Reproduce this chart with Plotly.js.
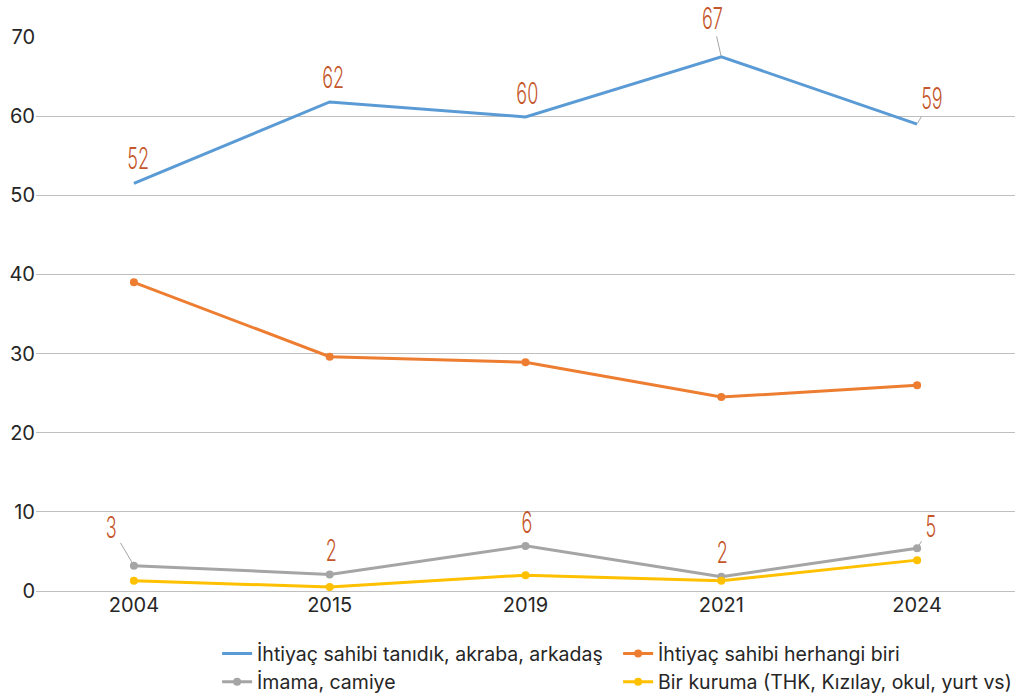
<!DOCTYPE html>
<html>
<head>
<meta charset="utf-8">
<script src="https://cdn.plot.ly/plotly-3.0.1.min.js"></script>
<style>
html,body{margin:0;padding:0;background:#fff;}
#chart{width:1028px;height:697px;}
#chart .annotation-text{transform:scaleX(0.6);transform-box:fill-box;transform-origin:center;}
</style>
</head>
<body>
<div id="chart"></div>
<script>
const years = ['2004', '2015', '2019', '2021', '2024'];
const seriesNames = ['İhtiyaç sahibi tanıdık, akraba, arkadaş', 'İhtiyaç sahibi herhangi biri', 'İmama, camiye', 'Bir kuruma (THK, Kızılay, okul, yurt vs)'];
const tanidik = [51.5, 61.8, 59.9, 67.5, 59.0];
const herhangi = [39.0, 29.6, 28.9, 24.5, 26.0];
const imama = [3.2, 2.1, 5.7, 1.8, 5.4];
const kuruma = [1.3, 0.5, 2.0, 1.3, 3.9];
const tanidikLabels = ['52', '62', '60', '67', '59'];
const imamaLabels = ['3', '2', '6', '2', '5'];

const colors = ['#5B9BD5', '#ED7D31', '#A5A5A5', '#FFC000'];
const data = [
  {x: years, y: tanidik, name: seriesNames[0], type: 'scatter', mode: 'lines', line: {color: colors[0], width: 3}},
  {x: years, y: herhangi, name: seriesNames[1], type: 'scatter', mode: 'lines+markers', line: {color: colors[1], width: 3}, marker: {size: 8, color: colors[1]}},
  {x: years, y: imama, name: seriesNames[2], type: 'scatter', mode: 'lines+markers', line: {color: colors[2], width: 3}, marker: {size: 8, color: colors[2]}},
  {x: years, y: kuruma, name: seriesNames[3], type: 'scatter', mode: 'lines+markers', line: {color: colors[3], width: 3}, marker: {size: 8, color: colors[3]}}
];

const labelFont = {family: 'Inter, "Liberation Sans", sans-serif', size: 30, weight: 300, color: '#C5562A'};
// label offsets (pixels): [ax, ay, arrow]
const blueOff = [[4, -25, false], [3, -25, false], [2, -24, false], [-9, -39, true], [15, -26, true]];
const grayOff = [[-23, -39, true], [1, -24, false], [1, -24, false], [1, -25, false], [14, -22, true]];
const annotations = [];
function addLabels(vals, labels, offs) {
  vals.forEach((v, i) => {
    const o = offs[i];
    if (o[2]) {
      annotations.push({x: i, y: v, xref: 'x', yref: 'y', text: labels[i], showarrow: true, arrowhead: 0, arrowwidth: 1, arrowcolor: '#A5A5A5', ax: o[0], ay: o[1], standoff: 1, font: labelFont, borderpad: 0});
    } else {
      annotations.push({x: i, y: v, xref: 'x', yref: 'y', text: labels[i], showarrow: false, xshift: o[0], yshift: -o[1], font: labelFont});
    }
  });
}
addLabels(tanidik, tanidikLabels, blueOff);
addLabels(imama, imamaLabels, grayOff);

const tickFont = {family: 'Inter, "Noto Sans", sans-serif', size: 20, color: '#262626'};
const layout = {
  width: 1028, height: 697,
  margin: {l: 36, r: 13, t: 37, b: 106, autoexpand: false},
  paper_bgcolor: '#ffffff', plot_bgcolor: '#ffffff',
  showlegend: true,
  xaxis: {type: 'category', range: [-0.5, 4.5], showgrid: false, zeroline: false, showline: false, ticks: '', tickfont: tickFont, fixedrange: true},
  yaxis: {range: [0, 70], dtick: 10, showgrid: true, gridcolor: '#BFBFBF', gridwidth: 1, zeroline: true, zerolinecolor: '#BFBFBF', zerolinewidth: 1, showline: false, ticks: '', tickfont: tickFont, fixedrange: true},
  legend: {orientation: 'h', x: 0.185, xanchor: 'left', y: -0.078, yanchor: 'top', entrywidth: 356, entrywidthmode: 'pixels', font: {family: 'Inter, "Noto Sans", sans-serif', size: 19.5, color: '#262626'}, itemwidth: 30, tracegroupgap: 0},
  annotations: annotations
};
Plotly.newPlot('chart', data, layout, {displayModeBar: false, staticPlot: true});
</script>
</body>
</html>
